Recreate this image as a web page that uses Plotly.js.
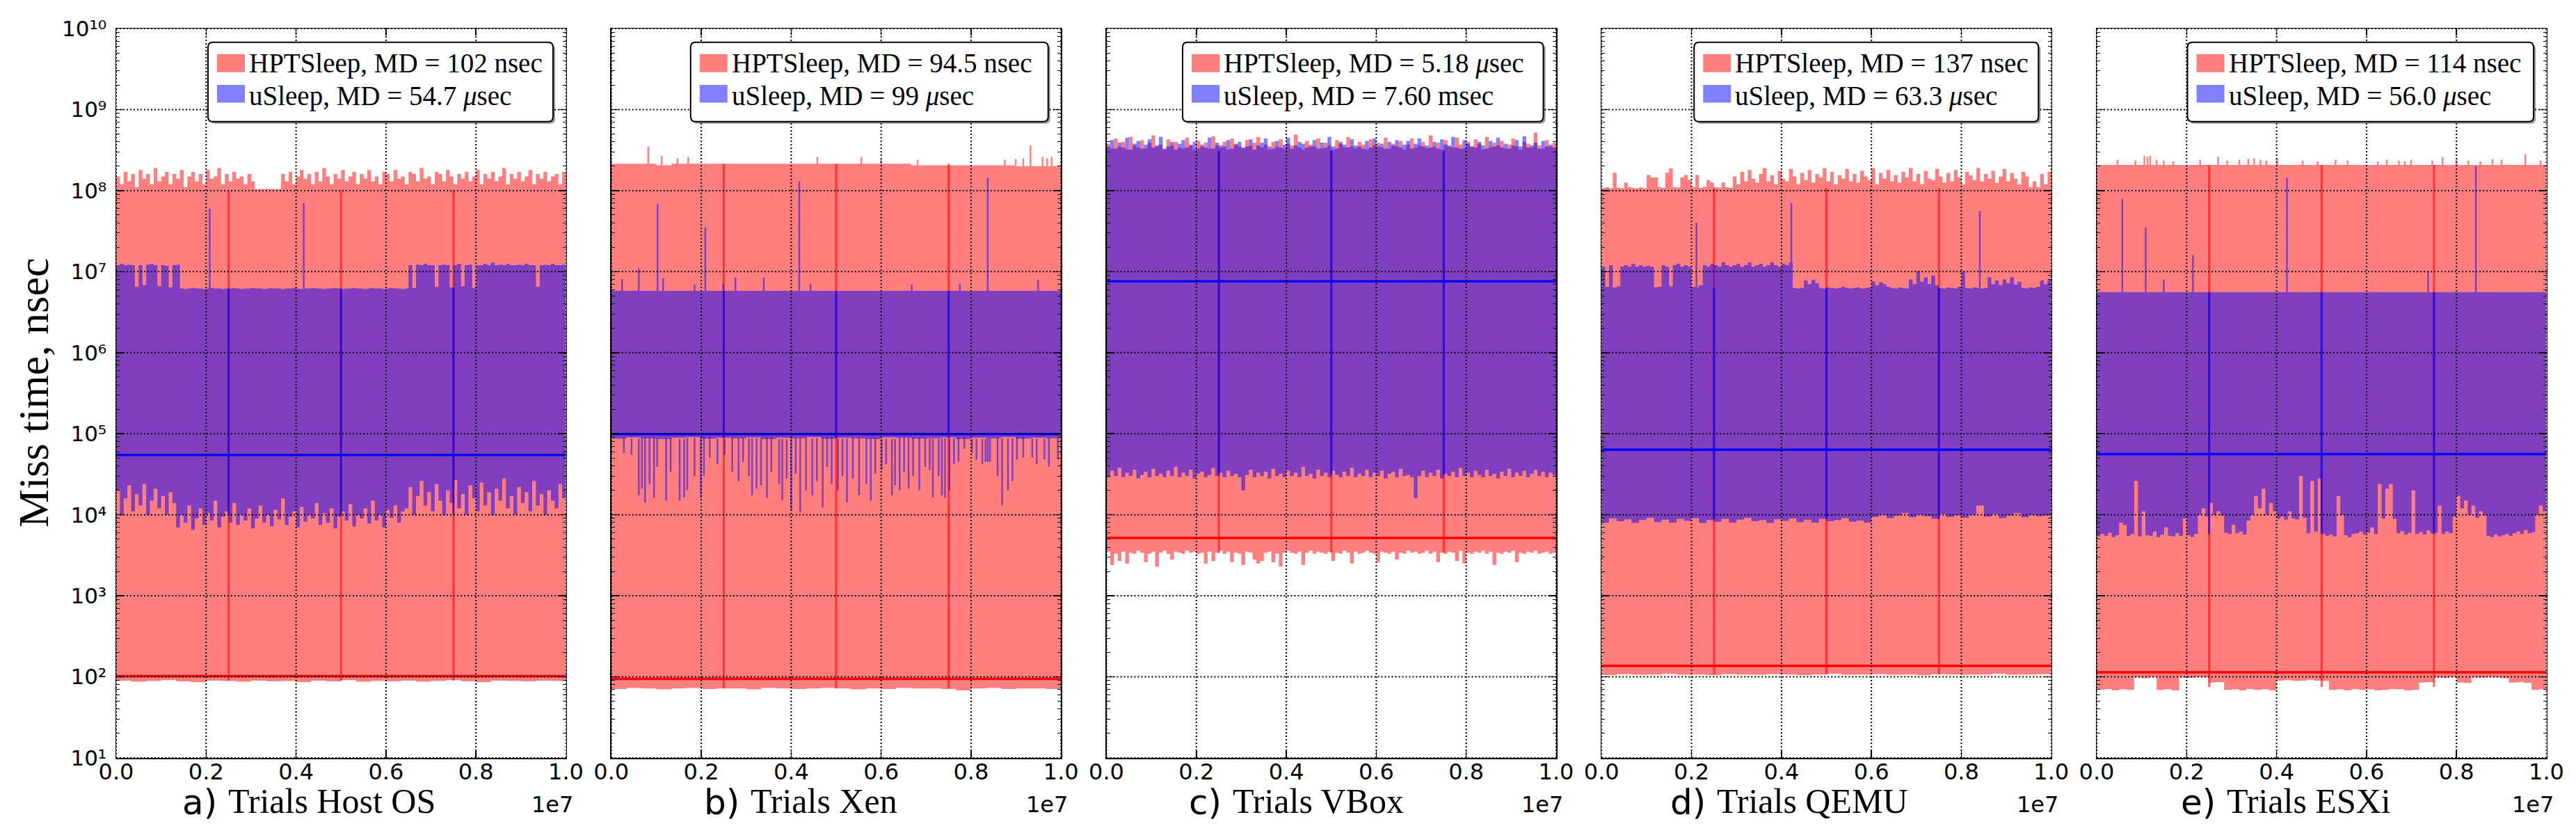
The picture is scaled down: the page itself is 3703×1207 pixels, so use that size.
<!DOCTYPE html>
<html><head><meta charset="utf-8">
<script src="https://cdn.plot.ly/plotly-3.0.1.min.js"></script>
<style>html,body{margin:0;padding:0;background:#fff}</style>
</head><body><div id="chart" style="width:3703px;height:1207px"></div>
<script>
// ---------------- DATA (miss time, nsec; trials 0..1e7) ----------------
const TRIALS = 1e7;
const panelLetters = ['a)', 'b)', 'c)', 'd)', 'e)'];
const panelNames = ['Trials Host OS', 'Trials Xen', 'Trials VBox', 'Trials QEMU', 'Trials ESXi'];
const hptLabels = ['HPTSleep, MD = 102 nsec', 'HPTSleep, MD = 94.5 nsec', 'HPTSleep, MD = 5.18 <i>μ</i>sec', 'HPTSleep, MD = 137 nsec', 'HPTSleep, MD = 114 nsec'];
const uLabels = ['uSleep, MD = 54.7 <i>μ</i>sec', 'uSleep, MD = 99 <i>μ</i>sec', 'uSleep, MD = 7.60 msec', 'uSleep, MD = 63.3 <i>μ</i>sec', 'uSleep, MD = 56.0 <i>μ</i>sec'];
const hptMedian = [102, 94.5, 5180, 137, 114];
const uMedian = [54700, 99000, 7.6e6, 63300, 56000];
const quarterX = [2.5e6, 5e6, 7.5e6];
const hptSegLine = [[90, 1e8], [72, 2.15e8], [3400, 3.1e8], [107, 1.07e8], [75, 2.07e8]];
const uSegLine = [[1e4, 6.2e6], [8.9e4, 5.8e6], [3.1e4, 3.1e8], [8.9e3, 6.3e6], [5.8e3, 5.6e6]];
const xTickVals = [0, 2e6, 4e6, 6e6, 8e6, 1e7];
const xTickText = ['0.0', '0.2', '0.4', '0.6', '0.8', '1.0'];
const yTickExp = [1, 2, 3, 4, 5, 6, 7, 8, 9, 10];

// ---- a) Host OS
const aRedUp = [1.5e8,1.2e8,1.7e8,1.3e8,1.6e8,1.1e8,1.8e8,1.4e8,1.6e8,1.2e8,
1.9e8,1.3e8,1.5e8,1.7e8,1.2e8,1.6e8,1.4e8,1.8e8,1.1e8,1.5e8,
1.7e8,1.3e8,1.6e8,1.2e8,1.8e8,1.4e8,1.5e8,1.9e8,1.2e8,1.6e8,
1.3e8,1.7e8,1.4e8,1.5e8,1.2e8,1.6e8,1.3e8,1.05e8,1.05e8,1.05e8,
1.05e8,1.05e8,1.05e8,1.05e8,1.6e8,1.3e8,1.7e8,1.2e8,1.5e8,1.8e8,
1.4e8,1.6e8,1.2e8,1.7e8,1.3e8,1.9e8,1.5e8,1.2e8,1.6e8,1.4e8,
1.8e8,1.3e8,1.5e8,1.7e8,1.2e8,1.6e8,1.4e8,1.8e8,1.3e8,1.5e8,
1.2e8,1.7e8,1.6e8,1.3e8,1.8e8,1.4e8,1.5e8,1.2e8,1.7e8,1.6e8,
1.3e8,1.9e8,1.4e8,1.5e8,1.2e8,1.7e8,1.6e8,1.3e8,1.8e8,1.5e8,
1.2e8,1.6e8,1.4e8,1.7e8,1.3e8,1.5e8,1.8e8,1.2e8,1.6e8,1.4e8,
1.7e8,1.3e8,1.5e8,1.9e8,1.2e8,1.6e8,1.4e8,1.7e8,1.3e8,1.5e8,
1.8e8,1.2e8,1.6e8,1.4e8,1.7e8,1.3e8,1.5e8,1.6e8,1.2e8,1.7e8,1.5e8];
const aRedLo = [88,90,87,89,91,88,86,90,89,87,90,88,89,86,90,88,91,87,89,88,90,87,89,91,88,86,90,89,88,90,89];
const aBlueUp = [1.2e7,1.25e7,1.2e7,1.22e7,1.2e7,6.5e6,1.2e7,6.8e6,1.22e7,1.25e7,1.2e7,6.6e6,1.2e7,1.18e7,6.4e6,1.2e7,1.22e7,
6.2e6,6.1e6,6.2e6,6.3e6,6.2e6,6.2e6,6.1e6,6.2e6,6.3e6,6.2e6,
6.2e6,6.1e6,6.2e6,6.2e6,6.3e6,6.2e6,6.1e6,6.2e6,6.2e6,6.3e6,
6.2e6,6.2e6,6.1e6,6.2e6,6.3e6,6.2e6,6.2e6,6.1e6,6.2e6,6.2e6,
6.3e6,6.2e6,6.1e6,6.2e6,6.2e6,6.3e6,6.2e6,6.2e6,6.1e6,6.2e6,
6.2e6,6.3e6,6.2e6,6.1e6,6.2e6,6.2e6,6.3e6,6.2e6,6.2e6,6.1e6,
6.2e6,6.3e6,6.2e6,6.2e6,6.1e6,6.2e6,6.3e6,6.2e6,6.2e6,6.1e6,
6.2e6,
1.2e7,6.3e6,1.22e7,1.2e7,1.25e7,1.2e7,1.2e7,6.5e6,1.2e7,1.22e7,1.2e7,6.4e6,1.2e7,1.25e7,6.6e6,1.2e7,1.22e7,6.3e6,1.2e7,1.2e7,
1.25e7,1.2e7,1.3e7,1.2e7,1.22e7,1.2e7,1.25e7,1.2e7,1.2e7,1.22e7,1.2e7,1.25e7,1.2e7,1.2e7,6.5e6,1.2e7,1.22e7,1.2e7,1.25e7,1.2e7,
1.2e7,1.22e7,1.2e7];
const aBlueLo = [1.2e4,2.0e4,1.0e4,1.6e4,2.3e4,1.1e4,1.8e4,1.3e4,2.4e4,1.0e4,1.5e4,2.1e4,1.2e4,1.7e4,1.0e4,1.9e4,1.4e4,
7.0e3,1.0e4,8.0e3,1.3e4,6.5e3,9.0e3,1.2e4,7.5e3,1.05e4,8.5e3,1.5e4,7.0e3,9.5e3,1.1e4,8.0e3,1.4e4,7.5e3,1.0e4,8.5e3,1.2e4,
6.8e3,9.0e3,1.3e4,8.0e3,1.0e4,7.2e3,1.15e4,8.8e3,1.6e4,7.5e3,9.5e3,1.1e4,7.0e3,1.25e4,8.2e3,1.0e4,9.0e3,1.4e4,7.5e3,1.05e4,
8.0e3,1.2e4,6.8e3,9.5e3,1.1e4,8.5e3,1.35e4,7.2e3,1.0e4,9.0e3,1.2e4,7.8e3,1.5e4,8.5e3,1.0e4,7.0e3,1.15e4,9.2e3,1.3e4,8.0e3,1.1e4,
1.2e4,2.2e4,1.0e4,1.7e4,2.6e4,1.3e4,1.9e4,1.1e4,2.4e4,1.5e4,1.0e4,2.0e4,1.4e4,2.7e4,1.2e4,1.8e4,1.0e4,2.3e4,1.6e4,1.1e4,
2.5e4,1.3e4,1.9e4,1.0e4,2.1e4,1.5e4,2.8e4,1.2e4,1.7e4,1.0e4,2.2e4,1.4e4,1.9e4,1.1e4,2.6e4,1.3e4,1.8e4,1.0e4,2.0e4,1.5e4,
1.2e4,2.4e4,1.6e4];
const aBlueSpikeX = [2.08e6, 4.17e6];
const aBlueSpikeTop = [6e7, 7e7];

// ---- b) Xen
const bRedUp = [2.15e8,2.15e8,2.15e8,2.05e8,2.15e8,2.15e8,2.15e8,2.15e8,2.15e8,2.15e8,2.15e8,2.15e8,2.15e8,2.15e8,2.15e8,2.15e8,2.15e8,2.15e8,2.15e8,2.15e8,
2.05e8,2.05e8,2.05e8,2.05e8,2.05e8,2.05e8,2.05e8,2.0e8,2.0e8,2.0e8,2.0e8];
const bRedLo = [72,71,73,72,70,72,73,71,72,72,70,73,72,71,72,73,72,70,72,71,73,72,72,71,68,72,73,71,72,72,71];
const bRedSpikeX = [8.2e5,1.12e6,1.47e6,1.71e6,4.58e6,5.56e6,6.0e6,6.81e6,8.75e6,8.99e6,9.16e6,9.32e6,9.59e6,9.69e6,9.79e6];
const bRedSpikeTop = [3.5e8,2.7e8,2.5e8,2.6e8,2.6e8,2.6e8,2.45e8,2.4e8,2.4e8,2.45e8,2.5e8,3.6e8,2.6e8,2.5e8,2.6e8];
const bBlueUp = [5.8e6,5.8e6,5.8e6,5.8e6,5.8e6,5.8e6,5.8e6,5.8e6,5.8e6,5.8e6,5.8e6,5.8e6,5.8e6,5.8e6,5.8e6,5.8e6,5.8e6,5.8e6,5.8e6,5.8e6,5.8e6,5.8e6,5.8e6,5.8e6,5.8e6,5.8e6,5.8e6,5.8e6,5.8e6,5.8e6,5.8e6];
const bBlueLo = [8.9e4,8.7e4,9.0e4,8.8e4,8.6e4,8.9e4,9.1e4,8.7e4,8.9e4,8.8e4,9.0e4,8.6e4,8.9e4,8.8e4,9.1e4,8.7e4,8.9e4,8.8e4,8.6e4,9.0e4,8.9e4,8.7e4,8.8e4,9.0e4,8.6e4,8.9e4,8.8e4,9.1e4,8.7e4,8.9e4,8.8e4];
const bBlueSpikeX = [2.4e5,6.1e5,1.03e6,1.15e6,1.85e6,2.09e6,2.49e6,2.76e6,3.39e6,4.18e6,4.43e6,6.68e6,7.75e6,8.37e6,9.49e6];
const bBlueSpikeTop = [8.1e6,1.1e7,6.9e7,8.3e6,6.9e6,3.5e7,7.1e6,8.5e6,8.5e6,1.3e8,7.1e6,6.9e6,7.1e6,1.44e8,7.9e6];
const bBlueDipX = [2.8e5,4.5e5,6.1e5,6.8e5,7.5e5,8.5e5,9.5e5,1.02e6,1.22e6,1.32e6,1.52e6,1.62e6,1.69e6,1.85e6,1.99e6,2.06e6,2.19e6,2.36e6,2.52e6,2.69e6,
2.83e6,2.93e6,3.06e6,3.13e6,3.23e6,3.33e6,3.46e6,3.56e6,3.73e6,3.8e6,3.9e6,4.0e6,4.1e6,4.2e6,4.33e6,4.47e6,4.57e6,4.7e6,4.8e6,4.9e6,
5.04e6,5.14e6,5.24e6,5.37e6,5.51e6,5.67e6,5.77e6,5.87e6,6.01e6,6.11e6,6.24e6,6.31e6,6.41e6,6.51e6,6.61e6,6.71e6,6.85e6,6.98e6,7.08e6,7.15e6,
7.28e6,7.35e6,7.42e6,7.52e6,7.62e6,7.72e6,7.85e6,8.02e6,8.12e6,8.25e6,8.32e6,8.37e6,8.42e6,8.59e6,8.69e6,8.82e6,8.92e6,9.02e6,9.16e6,9.36e6,
9.46e6,9.63e6,9.73e6,9.93e6];
const bBlueDipBottom = [5.8e4,5.5e4,1.74e4,2.1e4,1.42e4,2.4e4,1.62e4,3.9e4,1.5e4,3.4e4,1.5e4,1.62e4,2.0e4,3.0e4,1.62e4,3.0e4,5.1e4,4.2e4,5.5e4,3.4e4,
2.6e4,4.5e4,3.0e4,1.74e4,2.1e4,2.3e4,1.62e4,3.4e4,2.4e4,1.5e4,2.8e4,1.15e4,3.2e4,1.08e4,2.0e4,1.74e4,2.6e4,1.23e4,3.9e4,2.4e4,
2.0e4,3.0e4,1.42e4,2.8e4,1.74e4,2.4e4,1.5e4,3.2e4,3.6e4,4.2e4,1.74e4,2.3e4,2.0e4,3.4e4,2.1e4,3.0e4,2.0e4,3.9e4,3.6e4,1.62e4,
3.0e4,1.74e4,1.62e4,2.0e4,4.2e4,4.5e4,6.5e4,5.8e4,4.8e4,4.2e4,4.5e4,4.5e4,4.5e4,3.0e4,1.32e4,2.0e4,2.6e4,4.8e4,5.1e4,5.1e4,
4.2e4,4.8e4,3.9e4,4.8e4];

// ---- c) VBox
const cRedUp = [3.8e8,3.3e8,4.4e8,3.5e8,4.0e8,3.2e8,4.6e8,3.6e8,3.4e8,4.2e8,3.3e8,3.9e8,4.8e8,3.5e8,3.7e8,3.2e8,4.3e8,3.6e8,4.0e8,3.4e8,
3.3e8,4.5e8,3.7e8,3.2e8,4.1e8,3.5e8,3.9e8,3.3e8,4.7e8,3.6e8,3.4e8,4.0e8,3.2e8,4.4e8,3.8e8,3.5e8,3.3e8,4.2e8,3.6e8,3.9e8,
4.6e8,3.4e8,3.7e8,3.2e8,4.0e8,3.5e8,4.3e8,3.3e8,3.8e8,3.6e8,4.9e8,3.4e8,3.2e8,4.1e8,3.7e8,3.5e8,4.4e8,3.3e8,3.9e8,3.6e8,
3.2e8,4.2e8,3.8e8,3.4e8,4.6e8,3.5e8,3.3e8,4.0e8,3.7e8,3.2e8,4.3e8,3.6e8,3.9e8,3.4e8,4.5e8,3.3e8,3.8e8,3.5e8,4.1e8,3.2e8,
3.7e8,4.4e8,3.4e8,3.6e8,4.0e8,3.3e8,4.8e8,3.5e8,3.9e8,3.2e8,4.2e8,3.6e8,3.4e8,4.5e8,3.7e8,3.3e8,4.0e8,3.5e8,4.3e8,3.8e8,
3.2e8,4.6e8,3.4e8,3.9e8,3.6e8,4.1e8,3.3e8,3.7e8,4.4e8,3.5e8,3.2e8,4.0e8,3.8e8,3.4e8,5.2e8,3.6e8,3.3e8,4.2e8,3.5e8,3.9e8,4.3e8];
const cRedLo = [3.4e3,3.5e3,2.4e3,3.3e3,2.7e3,3.5e3,2.5e3,3.4e3,3.3e3,3.6e3,
3.4e3,2.6e3,3.3e3,3.5e3,2.3e3,3.4e3,3.6e3,3.3e3,2.8e3,3.5e3,
3.4e3,3.3e3,3.6e3,3.4e3,3.5e3,3.3e3,3.4e3,2.5e3,3.5e3,2.7e3,
3.4e3,3.6e3,3.3e3,3.5e3,2.6e3,3.4e3,3.3e3,2.4e3,3.5e3,3.4e3,
2.8e3,2.5e3,2.7e3,3.4e3,3.5e3,2.6e3,3.3e3,2.3e3,3.4e3,3.6e3,
3.4e3,3.3e3,3.5e3,2.4e3,3.4e3,3.6e3,3.3e3,3.5e3,3.4e3,3.3e3,
3.5e3,2.7e3,3.4e3,3.3e3,3.6e3,3.4e3,2.5e3,3.5e3,3.3e3,3.4e3,
3.6e3,3.4e3,3.3e3,2.6e3,3.5e3,3.4e3,3.3e3,3.5e3,2.8e3,3.4e3,
3.3e3,3.6e3,3.4e3,3.5e3,3.3e3,3.4e3,3.6e3,3.3e3,3.5e3,2.6e3,
3.4e3,3.3e3,3.5e3,3.4e3,2.7e3,3.6e3,2.5e3,3.4e3,3.3e3,3.5e3,
3.4e3,3.6e3,3.3e3,3.5e3,2.4e3,3.4e3,3.3e3,3.5e3,3.4e3,3.6e3,
2.6e3,3.4e3,3.3e3,3.5e3,3.4e3,3.6e3,3.3e3,3.4e3,3.5e3,3.3e3,3.4e3];
const cBlueUp = [3.5e8,4.2e8,3.3e8,3.9e8,3.4e8,4.5e8,3.2e8,3.8e8,4.1e8,3.3e8,3.7e8,4.3e8,3.4e8,3.6e8,4.6e8,3.3e8,3.5e8,4.0e8,3.2e8,3.8e8,
4.2e8,3.4e8,3.6e8,4.0e8,3.3e8,3.7e8,3.4e8,4.5e8,3.3e8,3.9e8,3.6e8,3.5e8,4.2e8,3.3e8,3.7e8,4.0e8,3.4e8,3.5e8,4.3e8,3.2e8,
3.6e8,3.9e8,4.4e8,3.5e8,3.3e8,4.1e8,3.4e8,3.7e8,4.5e8,3.3e8,3.6e8,4.0e8,3.8e8,3.4e8,3.5e8,4.2e8,3.3e8,3.9e8,3.4e8,4.6e8,
3.5e8,3.3e8,4.0e8,3.7e8,3.4e8,4.3e8,3.6e8,3.5e8,3.3e8,4.1e8,3.4e8,4.4e8,3.5e8,3.8e8,3.3e8,4.0e8,3.6e8,4.2e8,3.4e8,3.7e8,
4.1e8,3.3e8,3.8e8,4.4e8,3.5e8,3.6e8,3.4e8,4.0e8,3.3e8,4.3e8,3.7e8,3.5e8,4.6e8,3.4e8,3.3e8,4.2e8,3.8e8,3.5e8,3.4e8,4.0e8,
3.6e8,3.3e8,4.1e8,3.5e8,4.5e8,3.4e8,3.8e8,3.3e8,3.6e8,4.2e8,3.5e8,4.7e8,3.4e8,3.6e8,3.9e8,3.3e8,4.1e8,3.5e8,3.7e8,3.4e8,4.0e8];
const cBlueLo = [3.2e4,2.9e4,3.5e4,3.0e4,3.8e4,2.9e4,3.3e4,3.0e4,3.6e4,2.8e4,
3.1e4,3.4e4,2.9e4,3.7e4,3.0e4,3.2e4,2.9e4,3.5e4,3.0e4,3.9e4,
2.9e4,3.3e4,3.0e4,3.6e4,2.8e4,3.2e4,3.4e4,2.9e4,3.1e4,3.8e4,
3.0e4,3.3e4,2.9e4,3.5e4,3.0e4,3.2e4,2.9e4,2.0e4,3.1e4,3.6e4,
2.9e4,3.3e4,3.0e4,3.4e4,2.8e4,3.7e4,3.0e4,3.2e4,2.9e4,3.5e4,
3.0e4,3.3e4,2.9e4,3.9e4,3.0e4,3.2e4,2.8e4,3.6e4,3.0e4,3.3e4,
2.9e4,3.5e4,3.1e4,2.9e4,3.4e4,3.0e4,3.8e4,2.9e4,3.2e4,3.0e4,
3.6e4,2.9e4,3.3e4,3.0e4,3.5e4,2.8e4,3.2e4,3.4e4,2.9e4,3.7e4,
3.0e4,3.1e4,2.9e4,1.6e4,3.0e4,3.5e4,2.9e4,3.3e4,3.0e4,3.6e4,
2.8e4,3.2e4,3.0e4,3.4e4,2.9e4,3.8e4,3.0e4,3.3e4,2.9e4,3.5e4,
3.1e4,2.9e4,3.6e4,3.0e4,3.2e4,2.8e4,3.4e4,3.0e4,3.7e4,2.9e4,
3.3e4,3.0e4,3.5e4,2.9e4,3.2e4,3.6e4,3.0e4,3.4e4,2.9e4,3.3e4,3.1e4];

// ---- d) QEMU
const dRedUp = [1.08e8,1.1e8,1.07e8,1.66e8,1.09e8,1.07e8,1.26e8,1.1e8,1.08e8,1.07e8,1.1e8,1.07e8,1.56e8,1.45e8,1.45e8,1.1e8,1.08e8,1.66e8,1.88e8,1.1e8,
1.09e8,1.45e8,1.56e8,1.35e8,1.1e8,1.56e8,1.08e8,1.12e8,1.35e8,1.26e8,1.1e8,1.09e8,1.26e8,1.1e8,1.08e8,1.5e8,1.2e8,1.7e8,1.3e8,1.8e8,
1.4e8,1.25e8,1.6e8,1.9e8,1.3e8,1.55e8,1.2e8,1.75e8,1.4e8,1.3e8,1.85e8,1.5e8,1.2e8,1.65e8,1.35e8,1.8e8,1.25e8,1.6e8,1.45e8,1.9e8,
1.3e8,1.7e8,1.2e8,1.55e8,1.4e8,1.85e8,1.3e8,1.6e8,1.25e8,1.75e8,1.5e8,1.35e8,1.9e8,1.2e8,1.65e8,1.4e8,1.8e8,1.3e8,1.55e8,1.25e8,
1.7e8,1.45e8,1.9e8,1.3e8,1.6e8,1.2e8,1.75e8,1.4e8,1.35e8,1.85e8,1.5e8,1.25e8,1.65e8,1.3e8,1.8e8,1.45e8,1.2e8,1.7e8,1.55e8,1.35e8,
1.9e8,1.3e8,1.6e8,1.4e8,1.75e8,1.25e8,1.5e8,1.85e8,1.3e8,1.65e8,1.4e8,1.2e8,1.7e8,1.5e8,1.1e8,1.3e8,1.1e8,1.6e8,1.2e8,1.7e8,1.5e8];
const dRedLo = [107,105,108,106,107,109,106,107,105,108,107,106,108,107,105,107,109,106,107,108,106,107,105,108,107,106,107,109,106,107,108];
const dBlueUp = [1.15e7,6.5e6,1.2e7,6.4e6,6.6e6,1.15e7,1.2e7,1.15e7,1.25e7,1.15e7,
1.2e7,1.15e7,1.18e7,1.15e7,6.4e6,6.5e6,1.2e7,1.15e7,6.6e6,1.2e7,
1.25e7,1.15e7,1.2e7,1.15e7,6.5e6,6.4e6,6.8e6,1.2e7,1.15e7,1.25e7,
1.2e7,1.15e7,1.3e7,1.2e7,1.15e7,1.2e7,1.25e7,1.15e7,1.2e7,1.3e7,
1.15e7,1.2e7,1.25e7,1.15e7,1.2e7,1.3e7,1.2e7,1.15e7,1.25e7,1.2e7,1.3e7,
6.3e6,6.2e6,6.3e6,7.8e6,7.0e6,7.9e6,7.2e6,
6.3e6,6.2e6,6.4e6,6.3e6,6.2e6,6.3e6,6.5e6,6.3e6,6.2e6,6.3e6,6.4e6,6.2e6,6.3e6,6.4e6,
7.6e6,6.8e6,7.4e6,7.0e6,6.5e6,6.3e6,6.2e6,6.4e6,6.3e6,6.2e6,
8.0e6,7.0e6,1.0e7,7.5e6,8.5e6,7.0e6,9.0e6,6.8e6,
6.3e6,6.2e6,6.4e6,6.3e6,6.2e6,6.5e6,1.0e7,6.3e6,6.2e6,6.4e6,6.3e6,6.2e6,6.3e6,
8.5e6,7.0e6,7.8e6,6.8e6,8.0e6,7.2e6,8.5e6,6.9e6,7.5e6,
6.3e6,6.2e6,6.4e6,6.3e6,6.5e6,7.8e6,7.0e6,7.9e6,7.2e6];
const dBlueLo = [8.5e3,8.0e3,9.0e3,8.3e3,8.8e3,7.9e3,8.6e3,9.2e3,8.1e3,8.7e3,
8.0e3,8.9e3,8.4e3,9.1e3,7.9e3,8.6e3,8.2e3,8.9e3,8.0e3,8.7e3,
9.2e3,8.3e3,8.6e3,7.9e3,8.8e3,8.4e3,9.0e3,8.1e3,8.7e3,8.0e3,
8.9e3,8.3e3,8.6e3,9.1e3,8.2e3,8.5e3,8.0e3,9.4e3,1.0e4,9.1e3,
9.8e3,1.05e4,9.3e3,1.0e4,9.6e3,8.9e3,1.02e4,9.4e3,9.9e3,9.2e3,
1.0e4,1.3e4,9.5e3,1.02e4,9.1e3,9.8e3,1.05e4,9.3e3,1.0e4,9.6e3,9.9e3];
const dBlueSpikeX = [2.11e6, 4.22e6, 8.41e6];
const dBlueSpikeTop = [4e7, 7e7, 5.6e7];

// ---- e) ESXi
const eRedUp = [2.07e8,2.07e8,2.07e8,2.07e8,2.07e8,2.07e8,2.07e8,2.07e8,2.07e8,2.07e8,2.07e8,2.07e8,2.07e8,2.07e8,2.07e8,2.07e8,2.07e8,2.07e8,2.07e8,2.07e8,2.07e8,2.07e8,2.07e8,2.07e8,2.07e8,2.07e8,2.07e8,2.07e8,2.07e8,2.07e8,2.07e8];
const eRedLo = [104,69,71,68,70,69,98,96,99,69,70,68,98,97,99,98,85,86,69,70,68,71,69,70,68,90,91,89,90,92,90,89,
69,70,68,71,69,70,68,69,71,70,68,69,85,86,98,97,99,85,84,98,97,99,98,96,85,86,84,69,70];
const eRedSpikeX = [4.6e5,8.6e5,1.06e6,1.13e6,1.19e6,1.33e6,1.49e6,1.7e6,2.3e6,2.7e6,2.9e6,3.17e6,3.37e6,3.5e6,3.64e6,3.77e6,4.01e6,4.58e6,4.91e6,5.31e6,
5.58e6,6.25e6,6.45e6,6.72e6,6.85e6,6.99e6,7.46e6,7.69e6,8.0e6,8.26e6,8.53e6,8.8e6,9.0e6,9.53e6,9.87e6];
const eRedSpikeTop = [2.4e8,2.35e8,2.7e8,2.6e8,2.7e8,2.4e8,2.35e8,2.3e8,2.4e8,2.6e8,2.35e8,2.4e8,2.45e8,2.5e8,2.4e8,2.35e8,2.5e8,2.35e8,2.3e8,2.4e8,
2.35e8,2.3e8,2.4e8,2.35e8,2.3e8,2.4e8,2.35e8,2.6e8,2.4e8,2.35e8,2.3e8,2.45e8,2.4e8,2.8e8,2.35e8];
const eBlueUp = [5.6e6,5.6e6,5.6e6,5.6e6,5.6e6,5.6e6,5.6e6,5.6e6,5.6e6,5.6e6,5.6e6,5.6e6,5.6e6,5.6e6,5.6e6,5.6e6,5.6e6,5.6e6,5.6e6,5.6e6,5.6e6,5.6e6,5.6e6,5.6e6,5.6e6,5.6e6,5.6e6,5.6e6,5.6e6,5.6e6,5.6e6];
const eBlueLo = [5.6e3,5.4e3,5.8e3,5.5e3,6.0e3,5.3e3,5.6e3,8.0e3,7.5e3,5.5e3,5.8e3,2.6e4,5.4e3,1.1e4,5.6e3,5.5e3,6.2e3,5.3e3,5.7e3,7.0e3,5.5e3,5.4e3,5.9e3,5.5e3,9.0e3,5.6e3,5.3e3,5.8e3,
1.0e4,1.2e4,9.5e3,1.4e4,1.0e4,1.1e4,9.8e3,
6.0e3,5.8e3,7.5e3,5.9e3,6.2e3,5.7e3,8.5e3,
1.0e4,1.7e4,1.2e4,2.1e4,1.0e4,1.4e4,1.1e4,
8.9e3,9.5e3,8.7e3,1.1e4,9.0e3,8.8e3,3.0e4,9.2e3,
5.9e3,2.6e4,6.2e3,2.8e4,5.8e3,
5.5e3,5.7e3,5.4e3,1.7e4,1.0e4,5.6e3,5.3e3,5.8e3,
5.9e3,6.2e3,5.7e3,6.0e3,7.0e3,5.8e3,
2.4e4,9.0e3,2.1e4,2.4e4,8.9e3,
5.9e3,6.3e3,5.7e3,6.0e3,2.0e4,5.8e3,6.1e3,5.7e3,6.4e3,5.9e3,
6.0e3,1.3e4,5.8e3,6.2e3,5.9e3,
9.5e3,1.7e4,1.2e4,1.5e4,1.0e4,1.3e4,9.2e3,1.1e4,9.8e3,
5.5e3,5.3e3,5.7e3,5.4e3,5.6e3,5.8e3,5.5e3,
5.9e3,6.2e3,5.8e3,6.5e3,5.9e3,6.1e3,
1.0e4,1.3e4,1.1e4];
const eBlueSpikeX = [5.7e5, 1.09e6, 1.49e6, 2.14e6, 4.23e6, 7.37e6, 8.43e6];
const eBlueSpikeTop = [7.9e7, 3.5e7, 8e6, 1.6e7, 1.44e8, 1e7, 2e8];

// ---------------- per-panel references ----------------
const redUp = [aRedUp, bRedUp, cRedUp, dRedUp, eRedUp];
const redLo = [aRedLo, bRedLo, cRedLo, dRedLo, eRedLo];
const blueUp = [aBlueUp, bBlueUp, cBlueUp, dBlueUp, eBlueUp];
const blueLo = [aBlueLo, bBlueLo, cBlueLo, dBlueLo, eBlueLo];
const redSpikes = [null, [bRedSpikeX, bRedSpikeTop], null, null, [eRedSpikeX, eRedSpikeTop]];
const blueSpikes = [[aBlueSpikeX, aBlueSpikeTop], [bBlueSpikeX, bBlueSpikeTop], null, [dBlueSpikeX, dBlueSpikeTop], [eBlueSpikeX, eBlueSpikeTop]];
const blueDips = [null, [bBlueDipX, bBlueDipBottom], null, null, null];

// ---------------- styling / layout ----------------
const W = 3703, H = 1207;
const PL = [167, 878.75, 1590.5, 2302.25, 3014];
const PW = 646.5;
const PT = 41, PB = 1089;
const LEGW = [496, 514, 518.5, 495, 497.5];
const TITLE_SERIF_START = [159, 198, 179.5, 164, 185]; // px from panel left
const RED_FILL = 'rgba(255,0,0,0.5)', BLUE_FILL = 'rgba(0,0,255,0.5)';
const SUP = { '0': '⁰', '1': '¹', '2': '²', '3': '³', '4': '⁴', '5': '⁵', '6': '⁶', '7': '⁷', '8': '⁸', '9': '⁹' };
const px = v => v / W, py = v => 1 - v / H;

function grid(n) { const a = []; for (let i = 0; i < n; i++) a.push(i * TRIALS / (n - 1)); return a; }
function band(up, lo) {
  const xu = grid(up.length), xl = grid(lo.length).reverse();
  return { x: xu.concat(xl), y: up.concat(lo.slice().reverse()) };
}
function stepVal(env, x) {
  const n = env.length; const i = Math.min(n - 1, Math.floor(x / TRIALS * (n - 1) + 1e-9)); return env[i];
}
function segs(xs, env, ends) {
  const x = [], y = [];
  xs.forEach((v, i) => { x.push(v, v, null); y.push(stepVal(env, v), ends[i], null); });
  return { x, y };
}

const traces = [];
const shapes = [];
const annotations = [];
const layout = {
  width: W, height: H, margin: { l: 0, r: 0, t: 0, b: 0 }, autosize: false,
  paper_bgcolor: '#fff', plot_bgcolor: '#fff', showlegend: false,
  font: { family: 'DejaVu Sans', color: '#000' }
};
const minorVals = [];
for (let e = 1; e < 10; e++) for (let m = 2; m < 10; m++) minorVals.push(m * Math.pow(10, e));

for (let k = 0; k < 5; k++) {
  const sfx = k ? String(k + 1) : '';
  const xa = 'x' + sfx, ya = 'y' + sfx;
  layout['xaxis' + sfx] = {
    domain: [px(PL[k]), px(PL[k] + PW)], range: [0, TRIALS], anchor: ya,
    tickmode: 'array', tickvals: xTickVals, ticktext: xTickText,
    ticks: 'inside', ticklen: 10, tickwidth: 1.5, tickcolor: '#000',
    showline: true, linecolor: '#000', linewidth: 1.5, mirror: 'allticks',
    showgrid: false, zeroline: false, layer: 'above traces', fixedrange: true,
    tickfont: { family: 'DejaVu Sans', size: 32, color: '#000' }, ticklabelstandoff: -9
  };
  layout['yaxis' + sfx] = {
    domain: [py(PB), py(PT)], type: 'log', range: [1, 10], anchor: xa,
    tickmode: 'array', tickvals: yTickExp.map(e => Math.pow(10, e)),
    ticktext: yTickExp.map(e => '10' + String(e).split('').map(c => SUP[c]).join('')),
    showticklabels: k === 0,
    ticks: 'inside', ticklen: 10, tickwidth: 1.5, tickcolor: '#000',
    minor: { tickmode: 'array', tickvals: minorVals, ticks: 'inside', ticklen: 5, tickwidth: 1, tickcolor: '#000', showgrid: false },
    showline: true, linecolor: '#000', linewidth: 1.5, mirror: 'allticks',
    showgrid: false, zeroline: false, layer: 'above traces', fixedrange: true,
    tickfont: { family: 'DejaVu Sans', size: 31, color: '#000' }, ticklabelstandoff: 6
  };

  const common = { type: 'scatter', mode: 'lines', xaxis: xa, yaxis: ya, hoverinfo: 'skip', showlegend: false };
  // HPTSleep band
  const rb = band(redUp[k], redLo[k]);
  traces.push(Object.assign({}, common, { name: hptLabels[k], x: rb.x, y: rb.y, fill: 'toself', fillcolor: RED_FILL, line: { width: 0, shape: 'hv' } }));
  if (redSpikes[k]) {
    const s = segs(redSpikes[k][0], redUp[k], redSpikes[k][1]);
    traces.push(Object.assign({}, common, { x: s.x, y: s.y, line: { color: RED_FILL, width: 2.5 } }));
  }
  traces.push(Object.assign({}, common, { x: [0, TRIALS], y: [hptMedian[k], hptMedian[k]], line: { color: '#ff0000', width: 3.5 } }));
  {
    const vx = [], vy = [];
    quarterX.forEach(q => { vx.push(q, q, null); vy.push(hptSegLine[k][0], hptSegLine[k][1], null); });
    traces.push(Object.assign({}, common, { x: vx, y: vy, line: { color: 'rgba(255,0,0,0.6)', width: 3 } }));
  }
  // uSleep band
  const bb = band(blueUp[k], blueLo[k]);
  traces.push(Object.assign({}, common, { name: uLabels[k], x: bb.x, y: bb.y, fill: 'toself', fillcolor: BLUE_FILL, line: { width: 0, shape: 'hv' } }));
  if (blueSpikes[k]) {
    const s = segs(blueSpikes[k][0], blueUp[k], blueSpikes[k][1]);
    traces.push(Object.assign({}, common, { x: s.x, y: s.y, line: { color: BLUE_FILL, width: 2.5 } }));
  }
  if (blueDips[k]) {
    const s = segs(blueDips[k][0], blueLo[k], blueDips[k][1]);
    traces.push(Object.assign({}, common, { x: s.x, y: s.y, line: { color: BLUE_FILL, width: 2.5 } }));
  }
  traces.push(Object.assign({}, common, { x: [0, TRIALS], y: [uMedian[k], uMedian[k]], line: { color: '#0000ff', width: 3.5 } }));
  {
    const vx = [], vy = [];
    quarterX.forEach(q => { vx.push(q, q, null); vy.push(uSegLine[k][0], uSegLine[k][1], null); });
    traces.push(Object.assign({}, common, { x: vx, y: vy, line: { color: 'rgba(0,0,255,0.6)', width: 3 } }));
  }

  // dotted grid on top
  const gl = { color: '#000', width: 2, dash: '2px,3px' };
  xTickVals.forEach(v => shapes.push({ type: 'line', xref: xa, yref: ya + ' domain', x0: v, x1: v, y0: 0, y1: 1, line: gl, layer: 'above' }));
  yTickExp.forEach(e => shapes.push({ type: 'line', xref: xa + ' domain', yref: ya + ' domain', x0: 0, x1: 1, y0: (e - 1) / 9, y1: (e - 1) / 9, line: gl, layer: 'above' }));

  // legend box (rounded, with shadow)
  const bx1 = PL[k] + PW - 18.5, bx0 = bx1 - LEGW[k], by0 = 60.7, by1 = 174.7, r = 7;
  const rr = (x0, y0, x1, y1, d) => {
    const P = (x, y) => px(x) + ',' + py(y);
    return 'M' + P(x0 + d, y0) + ' L' + P(x1 - d, y0) + ' Q' + P(x1, y0) + ' ' + P(x1, y0 + d) +
      ' L' + P(x1, y1 - d) + ' Q' + P(x1, y1) + ' ' + P(x1 - d, y1) +
      ' L' + P(x0 + d, y1) + ' Q' + P(x0, y1) + ' ' + P(x0, y1 - d) +
      ' L' + P(x0, y0 + d) + ' Q' + P(x0, y0) + ' ' + P(x0 + d, y0) + ' Z';
  };
  shapes.push({ type: 'path', xref: 'paper', yref: 'paper', path: rr(bx0 + 3, by0 + 3, bx1 + 3, by1 + 3, r), fillcolor: 'rgba(0,0,0,0.4)', line: { width: 0 }, layer: 'above' });
  shapes.push({ type: 'path', xref: 'paper', yref: 'paper', path: rr(bx0, by0, bx1, by1, r), fillcolor: '#fff', line: { color: '#000', width: 2 }, layer: 'above' });
  shapes.push({ type: 'rect', xref: 'paper', yref: 'paper', x0: px(bx0 + 13), x1: px(bx0 + 53), y0: py(103.7), y1: py(77.8), fillcolor: RED_FILL, line: { width: 0 }, layer: 'above' });
  shapes.push({ type: 'rect', xref: 'paper', yref: 'paper', x0: px(bx0 + 13), x1: px(bx0 + 53), y0: py(147.4), y1: py(122), fillcolor: BLUE_FILL, line: { width: 0 }, layer: 'above' });
  const lf = { family: 'Liberation Serif', size: 39, color: '#000' };
  annotations.push({ xref: 'paper', yref: 'paper', x: px(bx0 + 57), y: py(91.3), xanchor: 'left', yanchor: 'middle', text: hptLabels[k], showarrow: false, font: lf });
  annotations.push({ xref: 'paper', yref: 'paper', x: px(bx0 + 57), y: py(137.8), xanchor: 'left', yanchor: 'middle', text: uLabels[k], showarrow: false, font: lf });

  // x title (sans letter + serif name) and offset text
  const sStart = PL[k] + TITLE_SERIF_START[k];
  annotations.push({ xref: 'paper', yref: 'paper', x: px(sStart - 12), y: py(1153), xanchor: 'right', yanchor: 'middle',
    text: panelLetters[k], showarrow: false, font: { family: 'DejaVu Sans', size: 50, color: '#000' } });
  annotations.push({ xref: 'paper', yref: 'paper', x: px(sStart), y: py(1151), xanchor: 'left', yanchor: 'middle',
    text: panelNames[k], showarrow: false, font: { family: 'Liberation Serif', size: 50, color: '#000' } });
  annotations.push({ xref: 'paper', yref: 'paper', x: px(PL[k] + PW + 12), y: py(1156), xanchor: 'right', yanchor: 'middle',
    text: '1e7', showarrow: false, font: { family: 'DejaVu Sans', size: 32, color: '#000' } });
}
annotations.push({ xref: 'paper', yref: 'paper', x: px(48), y: py(565), xanchor: 'center', yanchor: 'middle', textangle: -90,
  text: 'Miss time, nsec', showarrow: false, font: { family: 'Liberation Serif', size: 62, color: '#000' } });

layout.shapes = shapes;
layout.annotations = annotations;
Plotly.newPlot('chart', traces, layout, { displayModeBar: false, staticPlot: true });
</script></body></html>
